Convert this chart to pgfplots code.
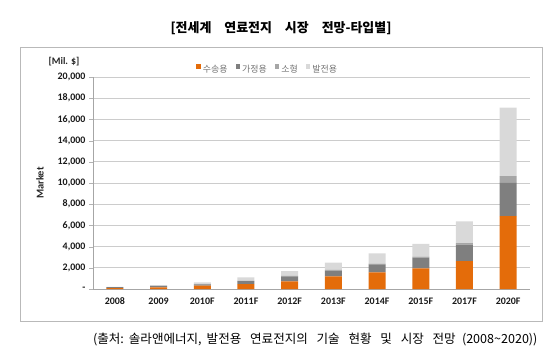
\documentclass[border=0pt]{standalone}
\usepackage{pgfplots}
\pgfplotsset{compat=1.18}
\usepackage{fontspec}
\setmainfont{Carlito}
\newfontfamily\kr{Noto Sans CJK KR}
\definecolor{cOr}{HTML}{E46C0A}
\definecolor{cDk}{HTML}{7F7F7F}
\definecolor{cMd}{HTML}{A6A6A6}
\definecolor{cLt}{HTML}{D9D9D9}
\pgfplotstableread{
x  su   ga   so  bal
0  90   90   5   5
1  150  150  10  10
2  330  100  20  170
3  470  280  30  310
4  720  470  50  450
5  1200 540  60  690
6  1570 750  80  960
7  1950 1000 100 1200
8  2640 1550 150 2050
9  6880 3140 630 6470
}\datatable
\begin{document}
\begin{tikzpicture}[x=1bp,y=1bp]
\path[use as bounding box] (0,0) rectangle (560,362);
\draw[gray!55, line width=0.9bp] (20,41) rectangle (542,315);
\node[font=\kr\bfseries\fontsize{13}{15}\selectfont] at (281,334) {[전세계\hspace{1em}연료전지\hspace{1em}시장\hspace{1em}전망-타입별]};
\node[anchor=east, font=\kr\fontsize{12.6}{14}\selectfont] at (541,23) {(출처:\hspace{0.4em}솔라앤에너지,\hspace{0.4em}발전용\hspace{0.7em}연료전지의\hspace{0.7em}기술\hspace{0.7em}현황\hspace{0.7em}및\hspace{0.7em}시장\hspace{0.7em}전망\hspace{0.5em}(2008\textasciitilde2020))};
\node[font=\bfseries\fontsize{10}{12}\selectfont, text=black!85] at (64,300) {[Mil. \$]};
\node[font=\bfseries\fontsize{10.5}{12}\selectfont, text=black!85, rotate=90] at (40,179) {Market};
\begin{axis}[
  at={(93bp,73bp)}, anchor=south west,
  scale only axis, width=437bp, height=212bp,
  ybar stacked, bar width=17bp,
  xmin=-0.5, xmax=9.5, ymin=0, ymax=20000,
  scaled y ticks=false,
  axis x line*=bottom, axis y line*=left,
  axis line style={gray!70, -},
  xtick={0,...,9},
  xticklabels={2008,2009,2010F,2011F,2012F,2013F,2014F,2015F,2017F,2020F},
  x tick style={draw=none},
  extra x ticks={-0.5,0.5,1.5,2.5,3.5,4.5,5.5,6.5,7.5,8.5,9.5},
  extra x tick labels={},
  extra x tick style={grid=none, tick align=outside, major tick length=4bp, tick style={draw=gray!70}},
  ytick={0,2000,...,20000},
  yticklabels={{-},{2,000},{4,000},{6,000},{8,000},{10,000},{12,000},{14,000},{16,000},{18,000},{20,000}},
  y tick style={draw=gray!60},
  tick align=outside, major tick length=4bp,
  ymajorgrids, major grid style={gray!40, line width=0.8bp},
  tick label style={font=\bfseries\fontsize{10}{12}\selectfont, text=black!90},
  xticklabel style={yshift=-1bp},
  legend style={at={(0.40,1.035)}, anchor=center, draw=none, fill=none,
    font=\kr\fontsize{9}{10}\selectfont, text=gray!90!black, legend columns=4,
    /tikz/every even column/.append style={column sep=6bp},
    inner sep=0pt},
  legend image code/.code={\fill[#1] (0bp,1bp) rectangle (4.5bp,5.5bp);},
]
\addplot[fill=cOr, draw=none] table[x=x,y=su] {\datatable};
\addplot[fill=cDk, draw=none] table[x=x,y=ga] {\datatable};
\addplot[fill=cMd, draw=none] table[x=x,y=so] {\datatable};
\addplot[fill=cLt, draw=none] table[x=x,y=bal] {\datatable};
\legend{수송용,가정용,소형,발전용}
\end{axis}
\end{tikzpicture}
\end{document}
